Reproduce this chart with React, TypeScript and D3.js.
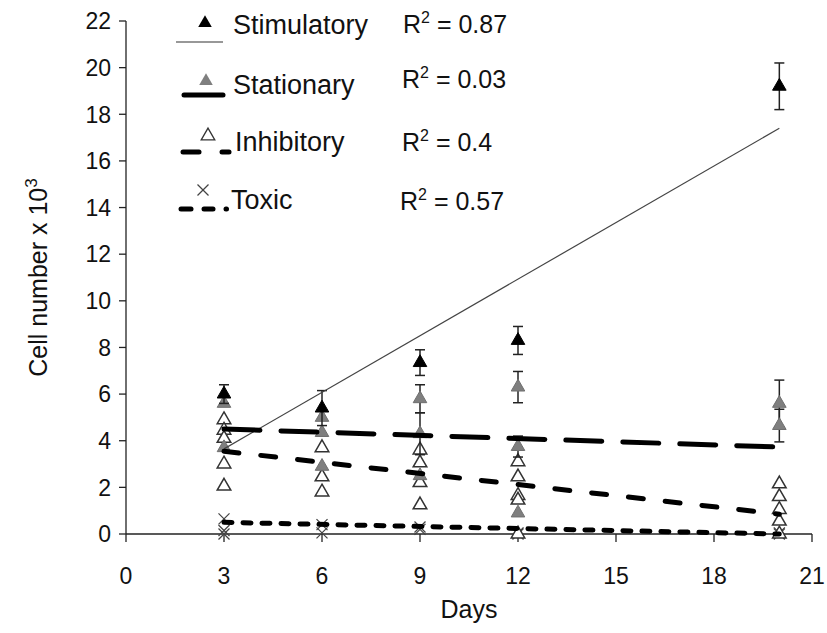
import React from "react";
import * as d3 from "d3";

// ---- data ----
const xTicks = [0, 3, 6, 9, 12, 15, 18, 21];
const yTicks = [0, 2, 4, 6, 8, 10, 12, 14, 16, 18, 20, 22];

// Stimulatory (black filled triangles)
const stimDays = [3, 6, 9, 12, 20];
const stimVals = [6.0, 5.4, 7.35, 8.3, 19.2];
const stimErr = [0.4, 0.75, 0.55, 0.6, 1.0];

// Stationary (grey filled triangles)
const statDays = [3, 3, 6, 6, 6, 9, 9, 9, 12, 12, 12, 20, 20];
const statVals = [5.6, 3.7, 5.0, 4.35, 2.9, 5.8, 4.3, 2.5, 6.3, 3.75, 0.9, 5.6, 4.65];
const statErr = [0, 0, 0, 0, 0, 0.6, 0.9, 0, 0.67, 0.45, 0, 1.0, 0.7];

// Inhibitory (open triangles)
const inhDays = [3, 3, 3, 3, 3, 6, 6, 6, 9, 9, 9, 9, 12, 12, 12, 12, 12, 20, 20, 20, 20, 20];
const inhVals = [4.9, 4.45, 4.1, 3.0, 2.05, 3.7, 2.45, 1.8, 3.6, 3.05, 2.2, 1.25, 3.1, 2.45, 1.65, 1.45, 0.0, 2.15, 1.6, 1.05, 0.55, 0.0];

// Toxic (crosses)
const toxDays = [3, 3, 3, 6, 6, 9, 9, 12, 12, 20, 20];
const toxVals = [0.65, 0.15, 0.0, 0.4, 0.05, 0.3, 0.2, 0.05, 0.0, 0.05, 0.0];

// Linear trend lines (start, end) over days 3..20
const trendDays = [3, 20];
const stimTrend = [3.65, 17.4];
const statTrend = [4.5, 3.73];
const inhTrend = [3.55, 0.85];
const toxTrend = [0.5, 0.0];

const legendNames = ["Stimulatory", "Stationary", "Inhibitory", "Toxic"];
const legendR2 = ["0.87", "0.03", "0.4", "0.57"];

const FONT = "'Liberation Sans', Arial, sans-serif";

export default function App() {
  const W = 827, H = 633;
  const x = d3.scaleLinear().domain([0, 21]).range([126, 812]);
  const y = d3.scaleLinear().domain([0, 22]).range([534, 21]);

  const tri = d3.symbol(d3.symbolTriangle).size(80)();
  const triLeg = d3.symbol(d3.symbolTriangle).size(80)();
  const line = d3.line<[number, number]>().x(d => x(d[0])).y(d => y(d[1]));

  const trendPts = (v: number[]) => trendDays.map((d, i) => [d, v[i]] as [number, number]);

  const errBar = (d: number, v: number, e: number, key: string) => {
    if (!e) return null;
    const cx = x(d);
    return (
      <g key={key} stroke="#222" strokeWidth={1.5}>
        <line x1={cx} x2={cx} y1={y(v + e)} y2={y(v - e)} />
        <line x1={cx - 5} x2={cx + 5} y1={y(v + e)} y2={y(v + e)} />
        <line x1={cx - 5} x2={cx + 5} y1={y(v - e)} y2={y(v - e)} />
      </g>
    );
  };

  const cross = (cx: number, cy: number, key: string, r = 5.5) => (
    <g key={key} stroke="#444" strokeWidth={1.2}>
      <line x1={cx - r} x2={cx + r} y1={cy - r} y2={cy + r} />
      <line x1={cx - r} x2={cx + r} y1={cy + r} y2={cy - r} />
    </g>
  );

  return (
    <svg width={W} height={H} style={{ position: "absolute", left: 0, top: 0, background: "#fff" }} fontFamily={FONT}>
      <rect width={W} height={H} fill="#fff" />
      {/* axes */}
      <g stroke="#222" strokeWidth={1.3}>
        <line x1={x(0)} x2={x(0)} y1={y(22)} y2={y(0)} />
        <line x1={x(0)} x2={x(21)} y1={y(0)} y2={y(0)} />
        {yTicks.map(t => (
          <line key={"yt" + t} x1={x(0) - 7} x2={x(0)} y1={y(t)} y2={y(t)} />
        ))}
        {xTicks.map(t => (
          <line key={"xt" + t} x1={x(t)} x2={x(t)} y1={y(0)} y2={y(0) + 8} />
        ))}
      </g>
      {yTicks.map(t => (
        <text key={"yl" + t} x={x(0) - 15} y={y(t)} dy="0.36em" textAnchor="end" fontSize={23} fill="#111">
          {t}
        </text>
      ))}
      {xTicks.map(t => (
        <text key={"xl" + t} x={x(t)} y={584} textAnchor="middle" fontSize={23} fill="#111">
          {t}
        </text>
      ))}
      <text x={469} y={618} textAnchor="middle" fontSize={25} fill="#111">Days</text>
      <text transform={`translate(47,${(y(0) + y(22)) / 2}) rotate(-90)`} textAnchor="middle" fontSize={25} fill="#111">
        Cell number x 10<tspan dy={-10} fontSize={17}>3</tspan>
      </text>

      {/* toxic markers */}
      {toxDays.map((d, i) => cross(x(d), y(toxVals[i]), "tx" + i))}

      {/* inhibitory open triangles */}
      {inhDays.map((d, i) => (
        <path key={"in" + i} d={tri} transform={`translate(${x(d)},${y(inhVals[i])})`} fill="#fff" stroke="#333" strokeWidth={1.5} />
      ))}

      {/* stationary grey */}
      {statDays.map((d, i) => errBar(d, statVals[i], statErr[i], "se" + i))}
      {statDays.map((d, i) => (
        <path key={"st" + i} d={tri} transform={`translate(${x(d)},${y(statVals[i])})`} fill="#7f7f7f" stroke="#6f6f6f" strokeWidth={1} />
      ))}

      {/* stimulatory black */}
      {stimDays.map((d, i) => errBar(d, stimVals[i], stimErr[i], "ke" + i))}
      {stimDays.map((d, i) => (
        <path key={"k" + i} d={tri} transform={`translate(${x(d)},${y(stimVals[i])})`} fill="#000" stroke="#000" strokeWidth={1} />
      ))}

      {/* trend lines */}
      <path d={line(trendPts(stimTrend)) || ""} fill="none" stroke="#444" strokeWidth={1.2} />
      <path d={line(trendPts(statTrend)) || ""} fill="none" stroke="#000" strokeWidth={5} strokeDasharray="36 21" strokeLinecap="round" />
      <path d={line(trendPts(inhTrend)) || ""} fill="none" stroke="#000" strokeWidth={5} strokeDasharray="15 22" strokeLinecap="round" />
      <path d={line(trendPts(toxTrend)) || ""} fill="none" stroke="#000" strokeWidth={5} strokeDasharray="8 11" strokeLinecap="round" />

      {/* legend */}
      <g>
        <path d={triLeg} transform="translate(205,23)" fill="#000" />
        <line x1={176} x2={223} y1={42} y2={42} stroke="#333" strokeWidth={1.2} />

        <path d={triLeg} transform="translate(206,81)" fill="#7f7f7f" />
        <line x1={184} x2={223} y1={95} y2={95} stroke="#000" strokeWidth={5} strokeLinecap="round" />

        <path d={triLeg} transform="translate(208,136)" fill="#fff" stroke="#333" strokeWidth={1.3} />
        <g stroke="#000" strokeWidth={5} strokeLinecap="round">
          <line x1={183} x2={199} y1={152} y2={152} />
          <line x1={222} x2={229} y1={152} y2={152} />
        </g>

        {cross(203, 190, "lx")}
        <g stroke="#000" strokeWidth={5} strokeLinecap="round">
          <line x1={181} x2={191} y1={209} y2={209} />
          <line x1={204} x2={213} y1={209} y2={209} />
          <line x1={226} x2={226.5} y1={209} y2={209} />
        </g>

        {legendNames.map((n, i) => (
          <text key={"ln" + i} x={[233, 233, 235, 231][i]} y={[34, 94, 151, 209][i]} fontSize={27} fill="#111">
            {n}
          </text>
        ))}
        {legendR2.map((r, i) => (
          <text key={"lr" + i} x={[403, 402, 402, 400][i]} y={[33, 88, 151, 210][i]} fontSize={25} fill="#111">
            R<tspan dy={-10} fontSize={16}>2</tspan>
            <tspan dy={10}>{" = " + r}</tspan>
          </text>
        ))}
      </g>
    </svg>
  );
}
